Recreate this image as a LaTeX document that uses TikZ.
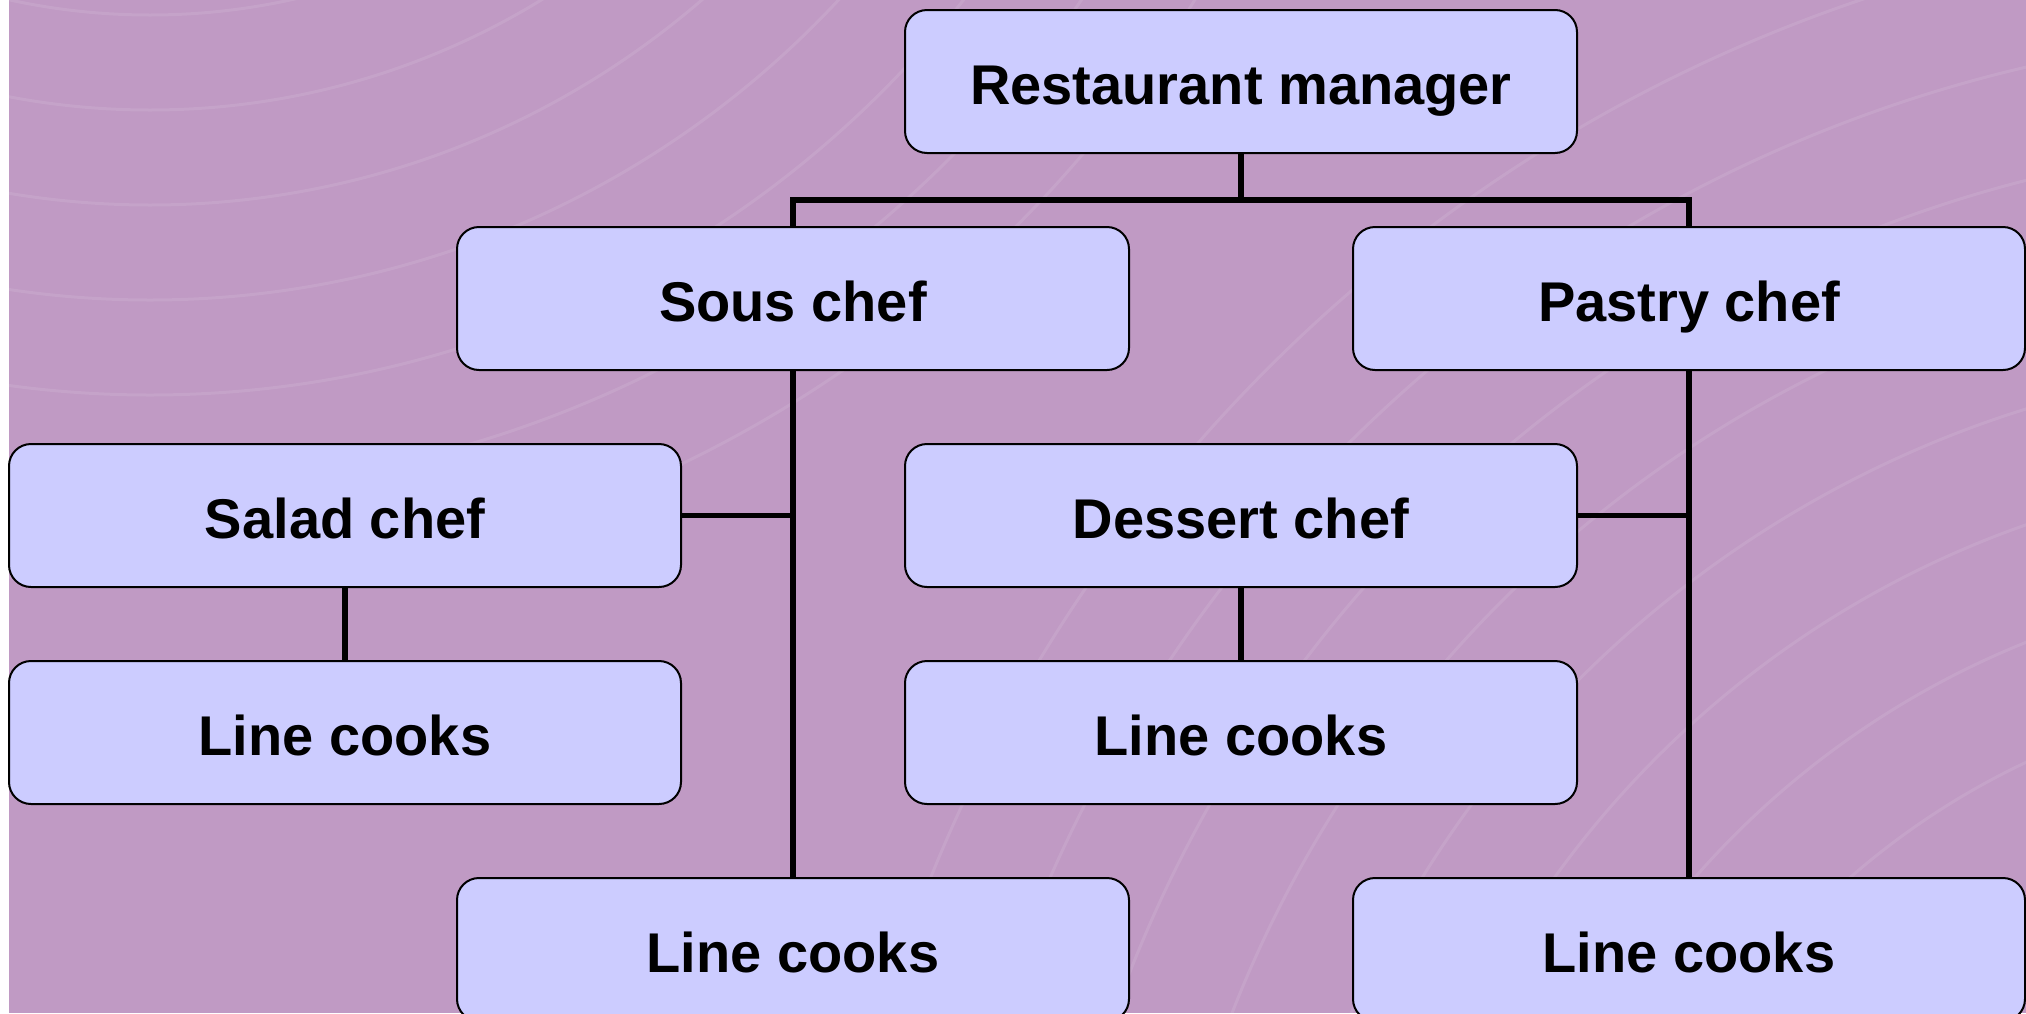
\documentclass[tikz,border=0pt]{standalone}
\usepackage{fontspec}
\setmainfont{Liberation Sans}
\definecolor{bgplum}{RGB}{192,154,196}
\definecolor{boxlav}{RGB}{204,204,255}
\tikzset{
  rolebox/.style={draw=black, line width=1pt, fill=boxlav, rounded corners=11pt,
    minimum width=336pt, minimum height=71.5pt, inner sep=0pt,
    text height=23pt, text depth=0pt,
    font=\bfseries\fontsize{28}{33}\selectfont},
  link/.style={black, line width=2.8pt}
}
\begin{document}
\begin{tikzpicture}[x=0.5pt, y=-0.5pt]
	\useasboundingbox (0,0) rectangle (2026,1013);
	\fill[bgplum] (9,0) rectangle (2026,1013);
	% faint swirls in the background
	\begin{scope}
		\clip (9,0) rectangle (2026,1013);
		\foreach \r in {655,750,845,940,1035,1130,1225}
			\draw[white, opacity=0.09, line width=1.5pt] (150,-640) circle (\r);
		\foreach \r in {760,870,980,1090,1200,1310,1420,1530}
			\draw[white, opacity=0.09, line width=1.5pt] (2350,1450) circle (\r);
	\end{scope}

	\node[rolebox] (mgr) at (1241,81.5) {Restaurant manager};
	\node[rolebox] (sous) at (793,298.5) {Sous chef};
	\node[rolebox] (pastry) at (1689,298.5) {Pastry chef};
	\node[rolebox] (salad) at (345,515.5) {Salad chef};
	\node[rolebox] (dessert) at (1241,515.5) {Dessert chef};
	\node[rolebox] (saladcooks) at (345,732.5) {Line cooks};
	\node[rolebox] (dessertcooks) at (1241,732.5) {Line cooks};
	\node[rolebox] (souscooks) at (793,949.5) {Line cooks};
	\node[rolebox] (pastrycooks) at (1689,949.5) {Line cooks};

	\coordinate (bar) at (1241,200);
	\draw[link] (mgr.south) -- (bar);
	\draw[link] (sous.north) |- (bar) -| (pastry.north);
	\draw[link] (sous.south) -- (souscooks.north);
	\draw[link] (salad.east) -- (salad.east -| sous.south);
	\draw[link] (pastry.south) -- (pastrycooks.north);
	\draw[link] (dessert.east) -- (dessert.east -| pastry.south);
	\draw[link] (salad.south) -- (saladcooks.north);
	\draw[link] (dessert.south) -- (dessertcooks.north);
\end{tikzpicture}
\end{document}
